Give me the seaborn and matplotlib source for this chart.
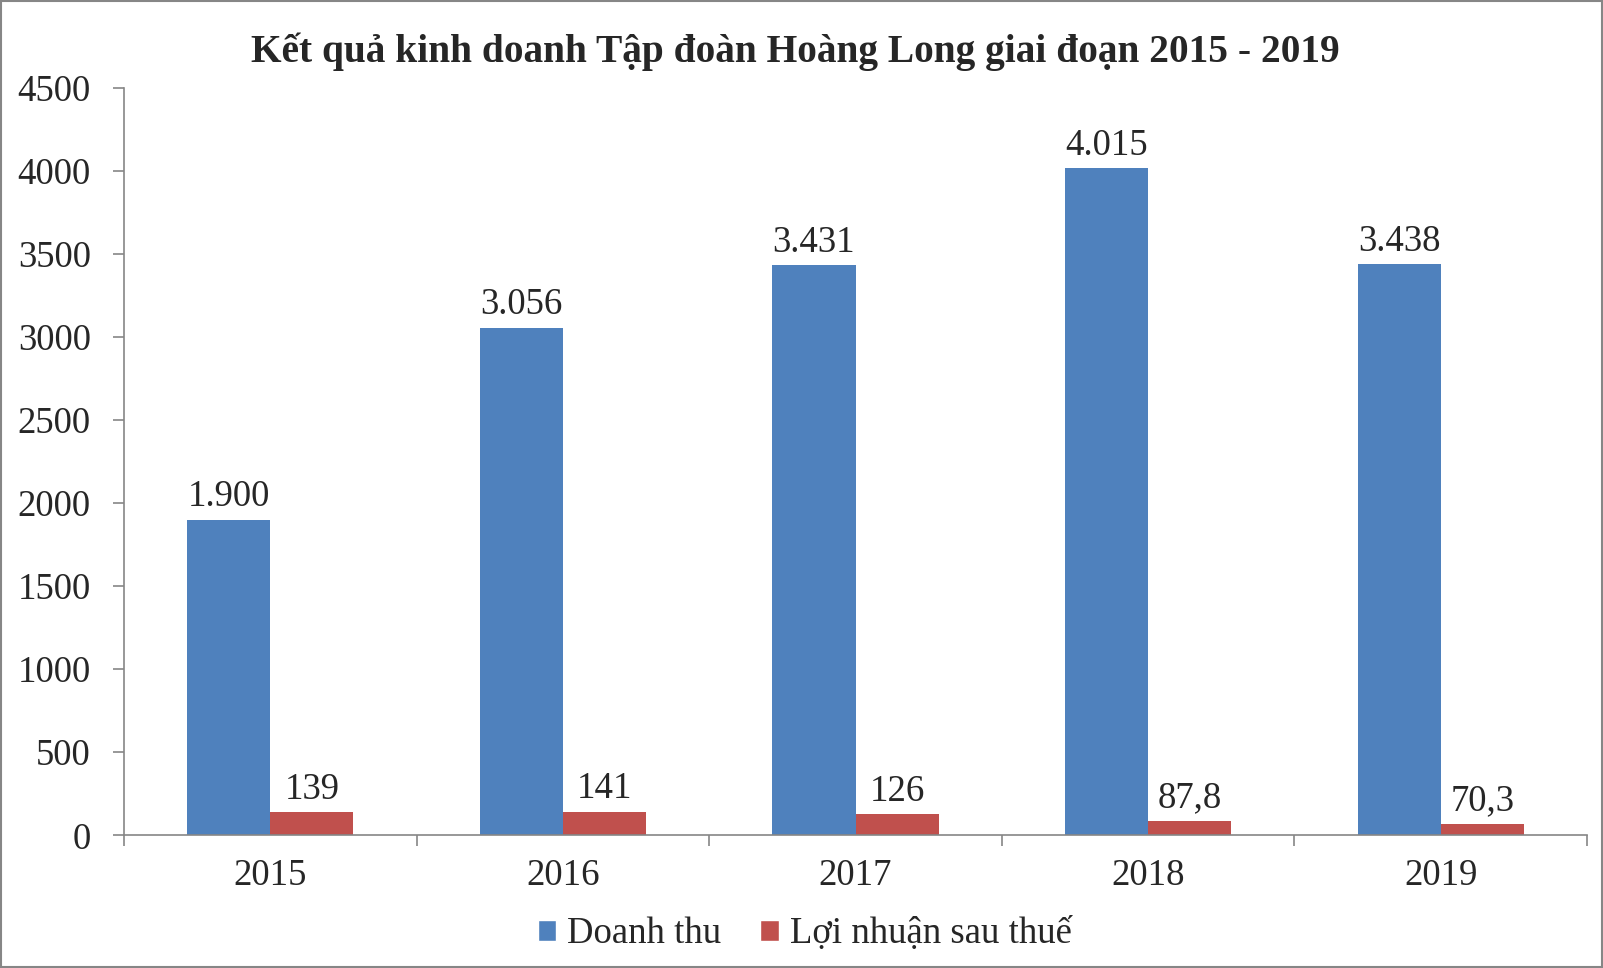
import pandas as pd
import seaborn as sns
import matplotlib
matplotlib.use("Agg")
import matplotlib.pyplot as plt
from matplotlib.patches import Rectangle

# data
years = ["2015", "2016", "2017", "2018", "2019"]
doanh_thu = [1900, 3056, 3431, 4015, 3438]
loi_nhuan = [139, 141, 126, 87.8, 70.3]
series_names = ["Doanh thu", "Lợi nhuận sau thuế"]
title = "Kết quả kinh doanh Tập đoàn Hoàng Long giai đoạn 2015 - 2019"
y_ticks = [0, 500, 1000, 1500, 2000, 2500, 3000, 3500, 4000, 4500]

colors = ["#4F81BD", "#C0504D"]
grey = "#868686"

sns.set_theme(style="white")
plt.rcParams["font.family"] = ["Liberation Serif", "DejaVu Serif"]


def vn_number(v):
    # vietnamese style: '.' for thousands, ',' for decimals
    if float(v).is_integer():
        return f"{int(v):,}".replace(",", ".")
    return f"{v:.1f}".replace(".", ",")


df = pd.DataFrame({
    "year": years * 2,
    "value": doanh_thu + loi_nhuan,
    "series": [series_names[0]] * len(years) + [series_names[1]] * len(years),
})

fig = plt.figure(figsize=(16.03, 9.68), dpi=100)
ax = fig.add_axes([0.0774, 0.1371, 0.990 - 0.0774, 0.9094 - 0.1371])

sns.barplot(data=df, x="year", y="value", hue="series",
            hue_order=series_names, order=years, palette=colors,
            width=0.568, gap=0, saturation=1, errorbar=None, ax=ax)

for cont, vals in zip(ax.containers, [doanh_thu, loi_nhuan]):
    for bar in cont:
        bar.set_edgecolor("none")
    ax.bar_label(cont, labels=[vn_number(v) for v in vals],
                 padding=4, fontsize=26.5)

ax.set_xlim(-0.5, len(years) - 0.5)
ax.set_ylim(0, 4500)
ax.set_yticks(y_ticks)
ax.set_xlabel("")
ax.set_ylabel("")

# spines
sns.despine(ax=ax)
for side in ["left", "bottom"]:
    ax.spines[side].set_color(grey)
    ax.spines[side].set_linewidth(1.2)

# ticks: y outward, x at category boundaries
ax.tick_params(axis="y", which="major", length=8, width=1.2, color=grey,
               labelsize=26.5, pad=16, left=True)
ax.tick_params(axis="x", which="major", length=0, labelsize=26.5, pad=16.5)
ax.set_xticks([i - 0.5 for i in range(len(years) + 1)], minor=True)
ax.tick_params(axis="x", which="minor", length=8, width=1.2, color=grey,
               bottom=True)

fig.suptitle(title, x=0.496, y=0.947, va="center", fontsize=28.4,
             fontweight="bold")

sns.move_legend(ax, "center", bbox_to_anchor=(0.502, 0.035),
                bbox_transform=fig.transFigure, ncol=2, frameon=False,
                title=None, fontsize=26.5, handlelength=0.5,
                handleheight=0.5, handletextpad=0.3, columnspacing=1.05)

# chart border
fig.patches.append(Rectangle((0.0008, 0.001), 0.9984, 0.998,
                             transform=fig.transFigure, fill=False,
                             edgecolor=grey, linewidth=1.5))

fig.savefig("out.png", dpi=100)
